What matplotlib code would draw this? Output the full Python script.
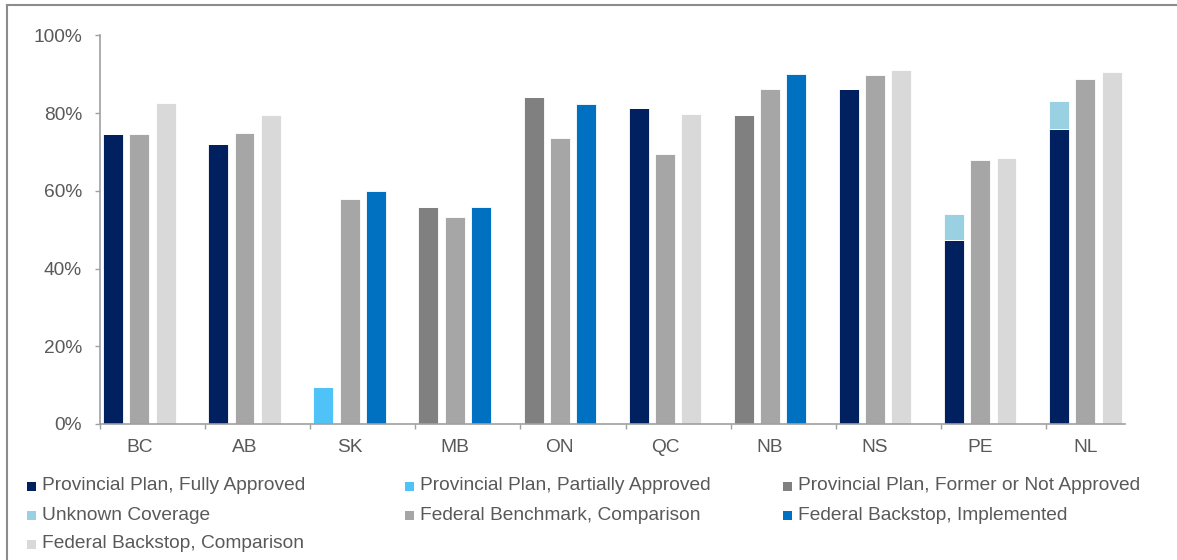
import matplotlib
matplotlib.use("Agg")
import matplotlib.pyplot as plt
from matplotlib.patches import Rectangle
from matplotlib.lines import Line2D
import numpy as np

plt.rcParams['font.family'] = ['Liberation Sans', 'DejaVu Sans']

# データ（% 値、画像から読み取り）
provinces = ["BC", "AB", "SK", "MB", "ON", "QC", "NB", "NS", "PE", "NL"]

# 1本目のスロット
fully_approved = [74.7, 72.0, 0, 0, 0, 81.2, 0, 86.2, 47.3, 75.9]
partially_approved = [0, 0, 9.4, 0, 0, 0, 0, 0, 0, 0]
former_not_approved = [0, 0, 0, 55.8, 84.0, 0, 79.5, 0, 0, 0]
unknown_coverage = [0, 0, 0, 0, 0, 0, 0, 0, 6.8, 7.2]
# 2本目のスロット
fed_benchmark = [74.7, 74.8, 57.9, 53.2, 73.5, 69.4, 86.1, 89.7, 67.8, 88.7]
# 3本目のスロット
backstop_implemented = [0, 0, 60.0, 55.7, 82.3, 0, 90.0, 0, 0, 0]
backstop_comparison = [82.6, 79.6, 0, 0, 0, 79.7, 0, 91.0, 68.4, 90.5]

labels = [
    "Provincial Plan, Fully Approved",
    "Provincial Plan, Partially Approved",
    "Provincial Plan, Former or Not Approved",
    "Unknown Coverage",
    "Federal Benchmark, Comparison",
    "Federal Backstop, Implemented",
    "Federal Backstop, Comparison",
]
colors = ["#002060", "#4FC3F7", "#808080", "#99D1E3", "#A6A6A6", "#0070C0", "#D9D9D9"]

text_col = "#595959"
axis_col = "#A0A0A0"
fs = 13.8

fig = plt.figure(figsize=(11.77, 5.6), dpi=100)
ax = fig.add_axes([100 / 1177, 1 - 424 / 560, 1025 / 1177, (424 - 35.3) / 560])

x = np.arange(len(provinces))
w = 0.19
kw = dict(width=w, edgecolor="white", linewidth=0.6)

# スロット1（積み上げ）
base = np.zeros(len(provinces))
for vals, c in [(fully_approved, colors[0]), (partially_approved, colors[1]),
                (former_not_approved, colors[2]), (unknown_coverage, colors[3])]:
    v = np.array(vals, dtype=float)
    ax.bar(x + 0.125, v, bottom=base, color=c, **kw)
    base += v

# スロット2
ax.bar(x + 0.375, fed_benchmark, color=colors[4], **kw)

# スロット3
ax.bar(x + 0.625, backstop_implemented, color=colors[5], **kw)
ax.bar(x + 0.625, backstop_comparison, color=colors[6], **kw)

ax.set_xlim(0, 1025 / 105.1)
ax.set_ylim(0, 100)

ax.set_yticks(np.arange(0, 101, 20))
ax.set_yticklabels([f"{v}%" for v in range(0, 101, 20)])
ax.set_xticks(x + 0.375)
ax.set_xticklabels(provinces)
ax.set_xticks(x, minor=True)

ax.tick_params(axis="y", length=3.6, width=1, color=axis_col, pad=9.4,
               labelsize=fs, labelcolor=text_col)
ax.tick_params(axis="x", which="major", length=0, pad=11,
               labelsize=fs, labelcolor=text_col)
ax.tick_params(axis="x", which="minor", length=3.6, width=1, color=axis_col)

for s in ["top", "right"]:
    ax.spines[s].set_visible(False)
for s in ["left", "bottom"]:
    ax.spines[s].set_color(axis_col)
    ax.spines[s].set_linewidth(1.2)

# 凡例（手動配置、行優先で3列）
W, H = 1177, 560
leg_pos = [(27, 486), (405, 486), (783, 486),
           (27, 515), (405, 515), (783, 515),
           (27, 544)]
for (px, py), lab, c in zip(leg_pos, labels, colors):
    fig.add_artist(Rectangle((px / W, 1 - (py + 4.5) / H), 9 / W, 9 / H,
                             transform=fig.transFigure, facecolor=c, edgecolor="none"))
    fig.text((px + 15) / W, 1 - py / H, lab, fontsize=fs, color=text_col,
             va="center", ha="left")

# 外枠（上・左）
fig.add_artist(Line2D([7 / W, 1], [1 - 5 / H, 1 - 5 / H], transform=fig.transFigure,
                      color="#8C8C8C", linewidth=1.5))
fig.add_artist(Line2D([7 / W, 7 / W], [0, 1 - 5 / H], transform=fig.transFigure,
                      color="#8C8C8C", linewidth=1.5))

fig.savefig("out.png", dpi=100)
